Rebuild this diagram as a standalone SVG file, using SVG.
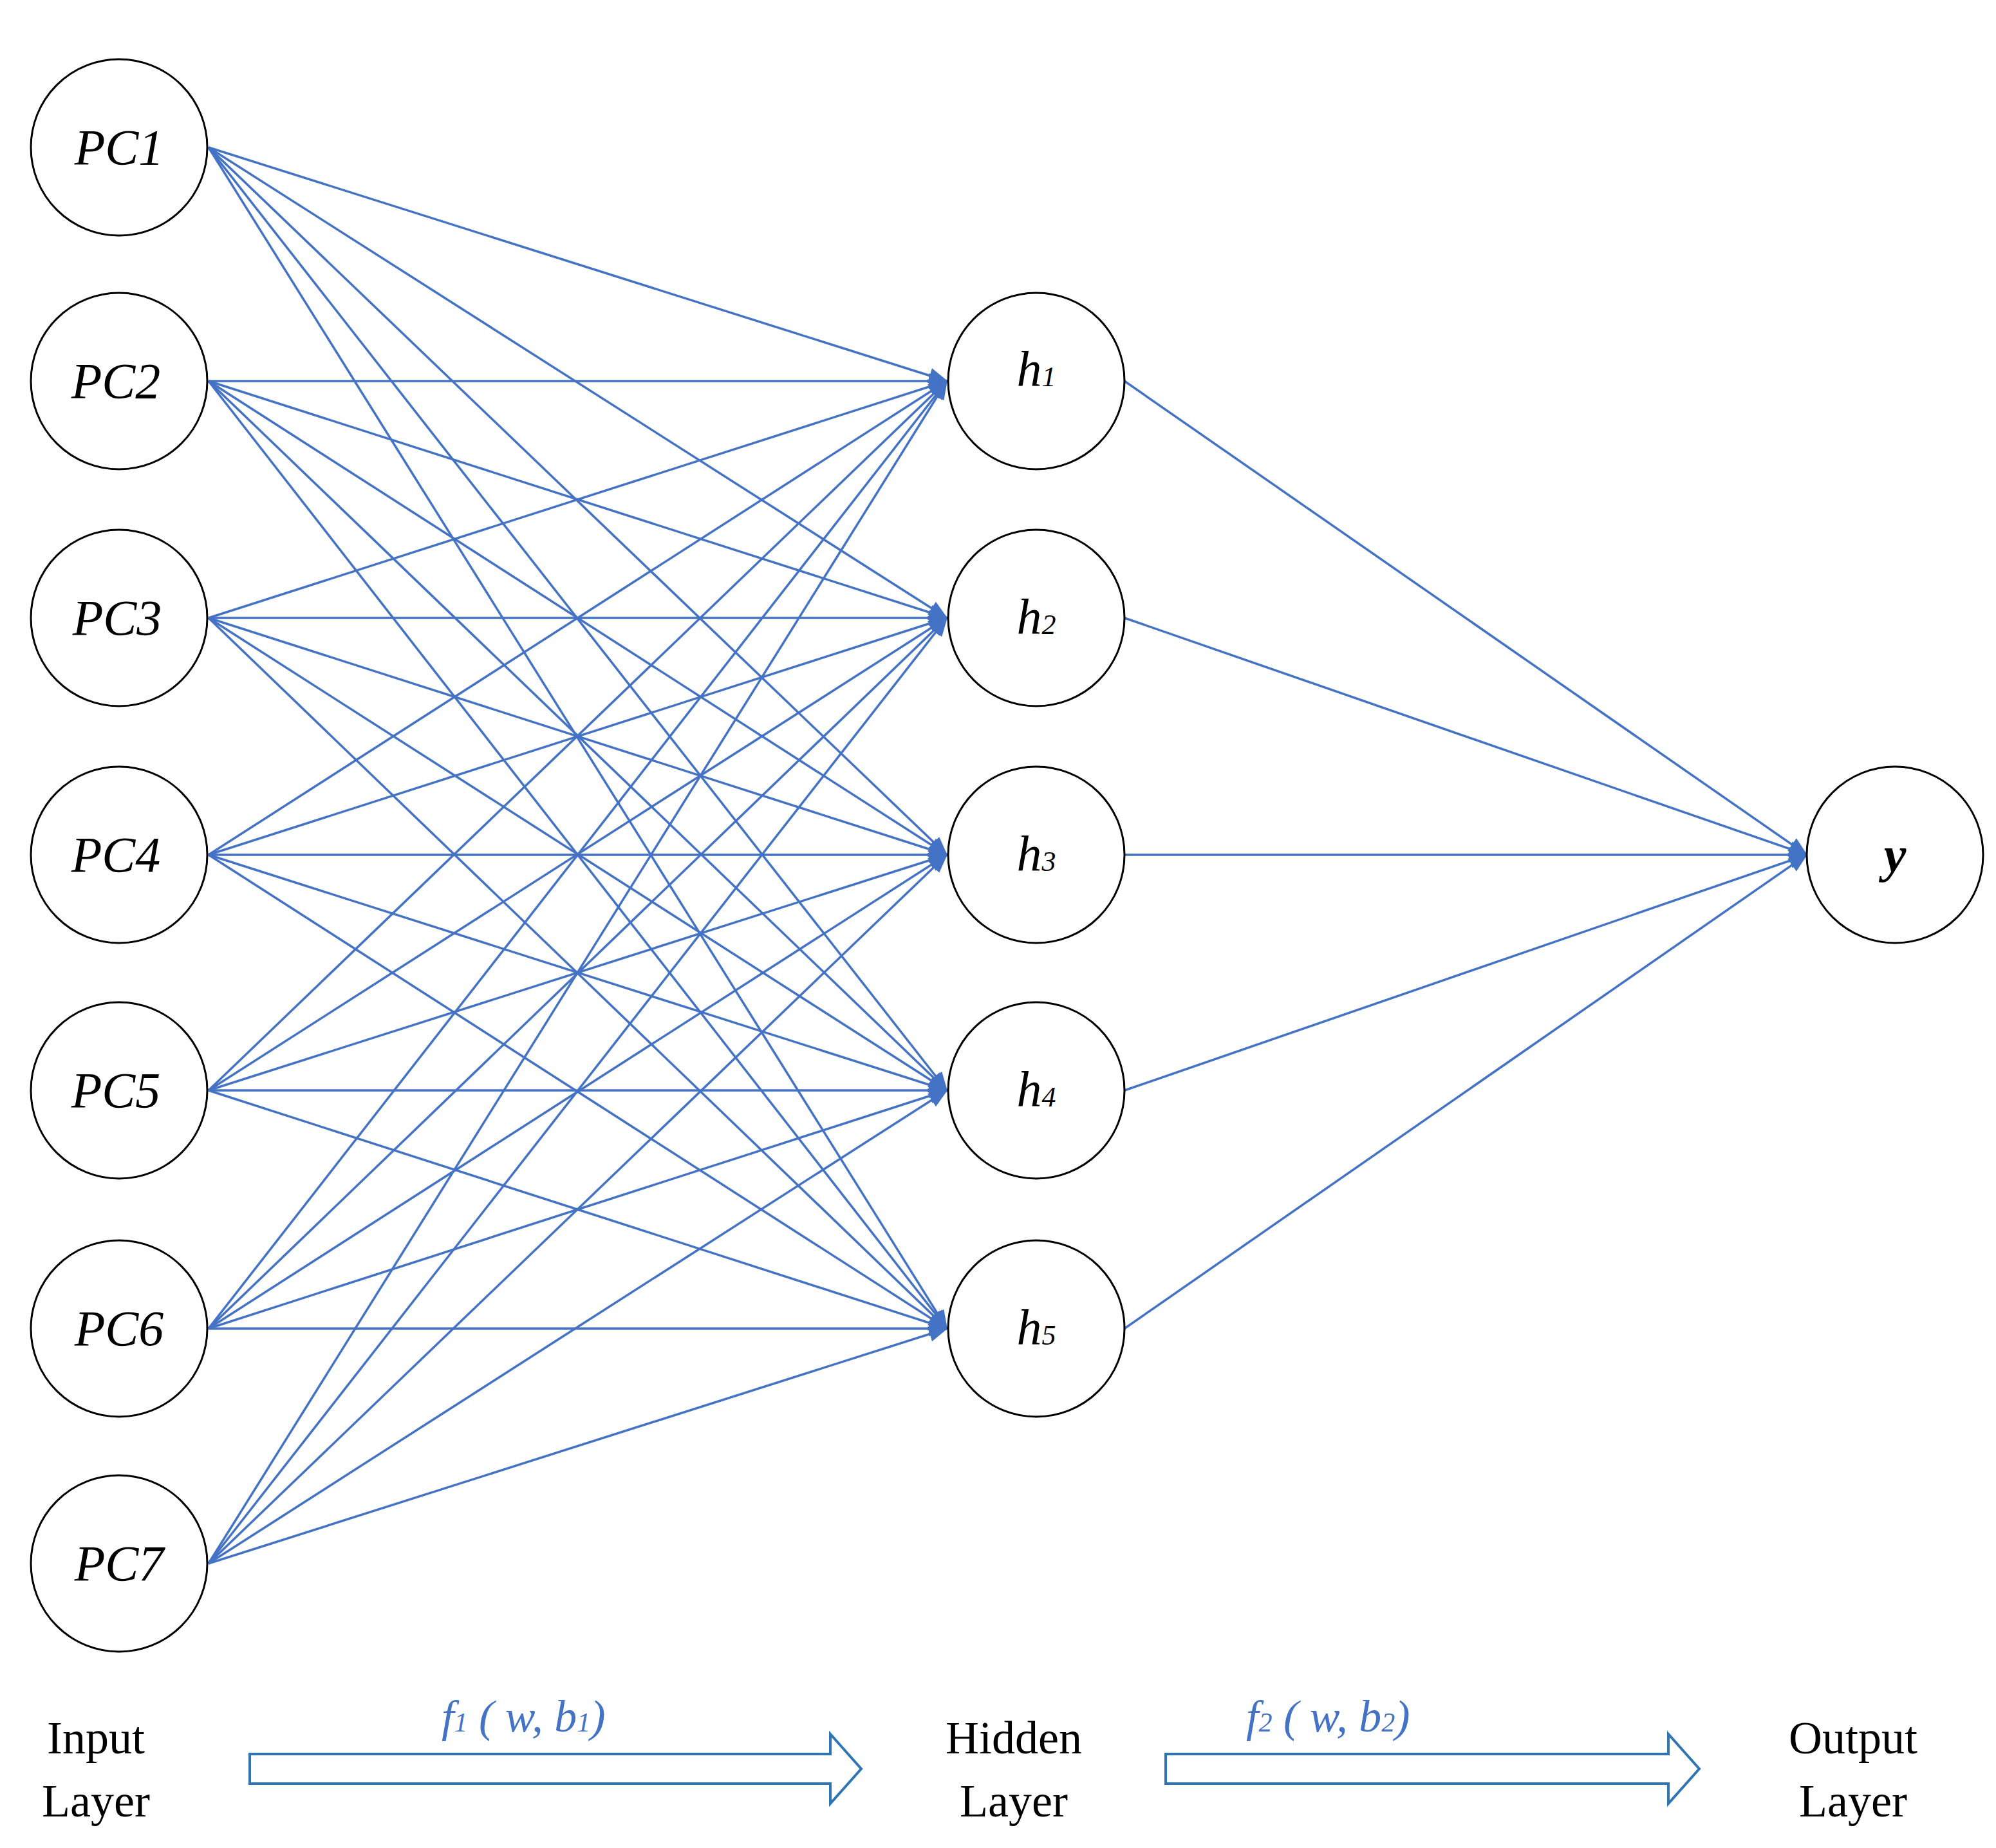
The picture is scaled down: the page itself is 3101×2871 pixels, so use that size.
<svg xmlns="http://www.w3.org/2000/svg" width="3101" height="2871" viewBox="0 0 3101 2871">
<style>
.n{fill:#fff;stroke:#000;stroke-width:3}
.t{font-family:"Liberation Serif",serif;font-style:italic;font-size:78px;text-anchor:middle}
.l{font-family:"Liberation Serif",serif;font-size:72px;text-anchor:middle}
.f{font-family:"Liberation Serif",serif;font-style:italic;font-size:70px;fill:#4472C4}
#edges line{stroke:#4472C4;stroke-width:3.5;marker-end:url(#a)}
.ha{fill:#fff;stroke:#2E75B6;stroke-width:4}
</style>
<defs><marker id="a" markerUnits="userSpaceOnUse" markerWidth="30" markerHeight="24" refX="28" refY="12" orient="auto"><path d="M0,0L30,12L0,24z" fill="#4472C4"/></marker></defs>
<rect width="3101" height="2871" fill="#fff"/>
<g id="edges">
<line x1="324" y1="229" x2="1471" y2="592"/><line x1="324" y1="229" x2="1471" y2="960"/><line x1="324" y1="229" x2="1471" y2="1328"/><line x1="324" y1="229" x2="1471" y2="1694"/><line x1="324" y1="229" x2="1471" y2="2064"/>
<line x1="324" y1="592" x2="1471" y2="592"/><line x1="324" y1="592" x2="1471" y2="960"/><line x1="324" y1="592" x2="1471" y2="1328"/><line x1="324" y1="592" x2="1471" y2="1694"/><line x1="324" y1="592" x2="1471" y2="2064"/>
<line x1="324" y1="960" x2="1471" y2="592"/><line x1="324" y1="960" x2="1471" y2="960"/><line x1="324" y1="960" x2="1471" y2="1328"/><line x1="324" y1="960" x2="1471" y2="1694"/><line x1="324" y1="960" x2="1471" y2="2064"/>
<line x1="324" y1="1328" x2="1471" y2="592"/><line x1="324" y1="1328" x2="1471" y2="960"/><line x1="324" y1="1328" x2="1471" y2="1328"/><line x1="324" y1="1328" x2="1471" y2="1694"/><line x1="324" y1="1328" x2="1471" y2="2064"/>
<line x1="324" y1="1694" x2="1471" y2="592"/><line x1="324" y1="1694" x2="1471" y2="960"/><line x1="324" y1="1694" x2="1471" y2="1328"/><line x1="324" y1="1694" x2="1471" y2="1694"/><line x1="324" y1="1694" x2="1471" y2="2064"/>
<line x1="324" y1="2064" x2="1471" y2="592"/><line x1="324" y1="2064" x2="1471" y2="960"/><line x1="324" y1="2064" x2="1471" y2="1328"/><line x1="324" y1="2064" x2="1471" y2="1694"/><line x1="324" y1="2064" x2="1471" y2="2064"/>
<line x1="324" y1="2429" x2="1471" y2="592"/><line x1="324" y1="2429" x2="1471" y2="960"/><line x1="324" y1="2429" x2="1471" y2="1328"/><line x1="324" y1="2429" x2="1471" y2="1694"/><line x1="324" y1="2429" x2="1471" y2="2064"/>
<line x1="1747" y1="592" x2="2807" y2="1328"/><line x1="1747" y1="960" x2="2807" y2="1328"/><line x1="1747" y1="1328" x2="2807" y2="1328"/><line x1="1747" y1="1694" x2="2807" y2="1328"/><line x1="1747" y1="2064" x2="2807" y2="1328"/>
</g>
<g id="PC1"><circle class="n" cx="185" cy="229" r="137"/><text class="t" x="185" y="255">PC1</text></g>
<g id="PC2"><circle class="n" cx="185" cy="592" r="137"/><text class="t" x="180" y="618">PC2</text></g>
<g id="PC3"><circle class="n" cx="185" cy="960" r="137"/><text class="t" x="182" y="986">PC3</text></g>
<g id="PC4"><circle class="n" cx="185" cy="1328" r="137"/><text class="t" x="180" y="1354">PC4</text></g>
<g id="PC5"><circle class="n" cx="185" cy="1694" r="137"/><text class="t" x="180" y="1720">PC5</text></g>
<g id="PC6"><circle class="n" cx="185" cy="2064" r="137"/><text class="t" x="185" y="2090">PC6</text></g>
<g id="PC7"><circle class="n" cx="185" cy="2429" r="137"/><text class="t" x="185" y="2455">PC7</text></g>
<g id="h1"><circle class="n" cx="1610" cy="592" r="137"/><text class="t" x="1610" y="600">h<tspan font-size="44">1</tspan></text></g>
<g id="h2"><circle class="n" cx="1610" cy="960" r="137"/><text class="t" x="1610" y="985">h<tspan font-size="44">2</tspan></text></g>
<g id="h3"><circle class="n" cx="1610" cy="1328" r="137"/><text class="t" x="1610" y="1353">h<tspan font-size="44">3</tspan></text></g>
<g id="h4"><circle class="n" cx="1610" cy="1694" r="137"/><text class="t" x="1610" y="1719">h<tspan font-size="44">4</tspan></text></g>
<g id="h5"><circle class="n" cx="1610" cy="2064" r="137"/><text class="t" x="1610" y="2089">h<tspan font-size="44">5</tspan></text></g>
<g id="y"><circle class="n" cx="2944" cy="1328" r="137"/><text class="t" x="2944" y="1354" font-weight="bold">y</text></g>
<g id="labels">
<text class="l" x="149" y="2724">Input</text><text class="l" x="149" y="2822">Layer</text>
<text class="l" x="1575" y="2724">Hidden</text><text class="l" x="1575" y="2822">Layer</text>
<text class="l" x="2879" y="2724">Output</text><text class="l" x="2879" y="2822">Layer</text>
<text class="f" x="686" y="2690">f<tspan font-size="42">1</tspan> ( w, b<tspan font-size="42">1</tspan>)</text>
<text class="f" x="1936" y="2690">f<tspan font-size="42">2</tspan> ( w, b<tspan font-size="42">2</tspan>)</text>
</g>
<g id="arrows">
<path class="ha" d="M388,2725H1290V2694L1338,2748L1290,2802V2771H388Z"/>
<path class="ha" d="M1811,2725H2592V2694L2640,2748L2592,2802V2771H1811Z"/>
</g>
</svg>
